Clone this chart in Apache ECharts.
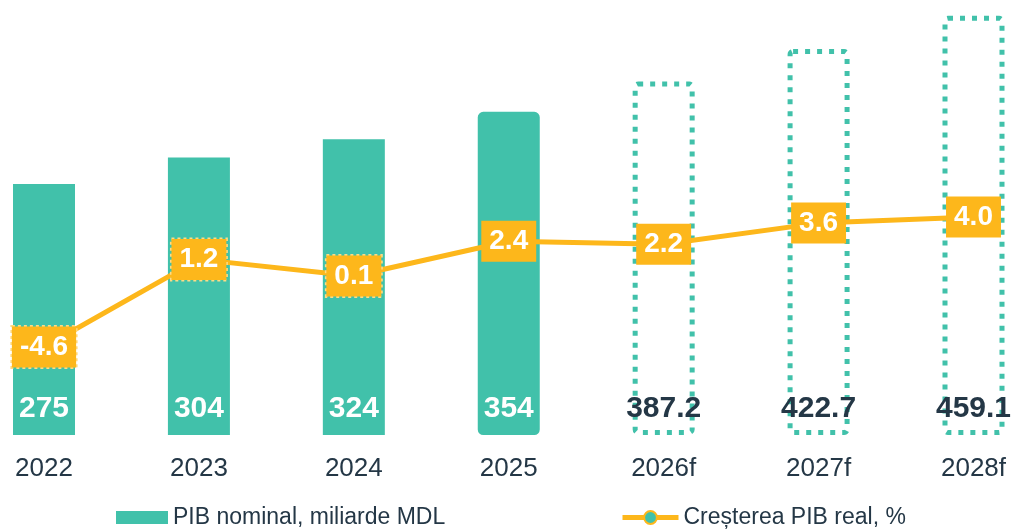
<!DOCTYPE html>
<html>
<head>
<meta charset="utf-8">
<script src="https://cdn.jsdelivr.net/npm/echarts@6/dist/echarts.min.js"></script>
<style>
html,body{margin:0;padding:0;background:#fff;}
#chart{width:1012px;height:529px;}
</style>
</head>
<body>
<div id="chart"></div>
<script>
const categories = ['2022', '2023', '2024', '2025', '2026f', '2027f', '2028f'];
const nominalGDP = [275, 304, 324, 354, 387.2, 422.7, 459.1];
const realGrowth = [-4.6, 1.2, 0.1, 2.4, 2.2, 3.6, 4.0];
const forecastFlags = [false, false, false, false, true, true, true];
const seriesNames = ['PIB nominal, miliarde MDL', 'Creșterea PIB real, %'];

const TEAL = '#41C1AA';
const ORANGE = '#FDB71B';
const DARK = '#243746';
const FONT = 'Liberation Sans, Arial, sans-serif';

const barData = nominalGDP.map(function (v, i) {
  if (forecastFlags[i]) {
    return {
      value: v,
      itemStyle: {
        color: 'rgba(0,0,0,0)',
        borderColor: TEAL,
        borderWidth: 5,
        borderType: [5, 7],
        borderRadius: 3
      },
      label: { color: DARK }
    };
  }
  if (i === 3) {
    return {
      value: v,
      itemStyle: { borderColor: TEAL, borderWidth: 5, borderRadius: 3 }
    };
  }
  return { value: v };
});

const lineData = realGrowth.map(function (v, i) {
  if (i < 3) {
    return {
      value: v,
      label: { borderColor: '#FFDB85', borderWidth: 1.5, borderType: 'dotted' }
    };
  }
  return { value: v };
});

const chart = echarts.init(document.getElementById('chart'), null, { renderer: 'canvas' });
chart.setOption({
  animation: false,
  backgroundColor: '#ffffff',
  textStyle: { fontFamily: FONT },
  grid: { left: 44, right: 38.5, top: 15, bottom: 94, containLabel: false },
  legend: [
    {
      data: [{ name: seriesNames[0], icon: 'rect' }],
      left: 116, top: 506, padding: 0,
      itemWidth: 52, itemHeight: 13, itemGap: 5,
      textStyle: { color: DARK, fontSize: 23, fontFamily: FONT }
    },
    {
      data: [{ name: seriesNames[1] }],
      left: 620, top: 506, padding: 0,
      itemWidth: 56, itemHeight: 16,
      lineStyle: { width: 5, color: ORANGE },
      itemStyle: { color: TEAL, borderColor: ORANGE, borderWidth: 2 },
      textStyle: { color: DARK, fontSize: 23, fontFamily: FONT }
    }
  ],
  xAxis: {
    type: 'category',
    data: categories,
    boundaryGap: false,
    axisLine: { show: false },
    axisTick: { show: false },
    axisLabel: { color: DARK, fontSize: 26, fontFamily: FONT, margin: 21 }
  },
  yAxis: [
    { type: 'value', min: 0, max: 460, show: false, splitLine: { show: false } },
    { type: 'value', min: -10.42, max: 17.37, show: false, splitLine: { show: false } }
  ],
  series: [
    {
      name: seriesNames[0],
      type: 'bar',
      yAxisIndex: 0,
      barWidth: 62,
      data: barData,
      itemStyle: { color: TEAL },
      label: {
        show: true,
        position: 'insideBottom',
        distance: 11,
        color: '#ffffff',
        fontSize: 30,
        fontWeight: 'bold',
        fontFamily: FONT
      },
      z: 2
    },
    {
      name: seriesNames[1],
      type: 'line',
      yAxisIndex: 1,
      data: lineData,
      symbol: 'circle',
      symbolSize: 12,
      lineStyle: { color: ORANGE, width: 5 },
      itemStyle: { color: TEAL, borderColor: ORANGE, borderWidth: 3 },
      label: {
        show: true,
        position: 'inside',
        formatter: function (p) { return p.value.toFixed(1); },
        color: '#ffffff',
        backgroundColor: ORANGE,
        fontSize: 28,
        fontWeight: 'bold',
        fontFamily: FONT,
        padding: [7, 8, 6, 8],
        lineHeight: 28
      },
      z: 5
    }
  ]
});
</script>
</body>
</html>
